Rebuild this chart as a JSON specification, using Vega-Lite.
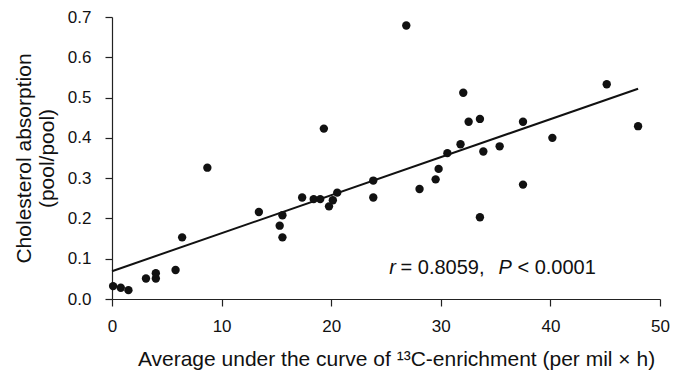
{
  "$schema": "https://vega.github.io/schema/vega-lite/v6.json",
  "autosize": "none",
  "width": 548,
  "height": 282,
  "padding": {"left": 112, "top": 17, "right": 24, "bottom": 79},
  "background": "white",
  "config": {
    "view": {"stroke": null},
    "font": "Liberation Sans",
    "axis": {"grid": false, "domainColor": "#222", "tickColor": "#222", "labelColor": "#111", "titleColor": "#111", "labelFont": "Liberation Sans", "titleFont": "Liberation Sans", "titleFontWeight": "normal", "labelFontSize": 17, "titleFontSize": 21, "tickSize": 7, "domainWidth": 1.2, "tickWidth": 1.2}
  },
  "datasets": {
    "points": [
      {"x": 0.1, "y": 0.032}, {"x": 0.8, "y": 0.028}, {"x": 1.5, "y": 0.022},
      {"x": 3.1, "y": 0.051}, {"x": 4.0, "y": 0.051}, {"x": 4.0, "y": 0.064},
      {"x": 5.8, "y": 0.072}, {"x": 6.4, "y": 0.153}, {"x": 8.7, "y": 0.326},
      {"x": 13.4, "y": 0.216}, {"x": 15.3, "y": 0.182}, {"x": 15.55, "y": 0.208},
      {"x": 15.55, "y": 0.153}, {"x": 17.35, "y": 0.252}, {"x": 18.4, "y": 0.248},
      {"x": 19.0, "y": 0.248}, {"x": 19.33, "y": 0.423}, {"x": 19.8, "y": 0.23},
      {"x": 20.15, "y": 0.245}, {"x": 20.55, "y": 0.264}, {"x": 23.84, "y": 0.294},
      {"x": 23.84, "y": 0.252}, {"x": 26.85, "y": 0.679}, {"x": 28.06, "y": 0.273},
      {"x": 29.53, "y": 0.297}, {"x": 29.8, "y": 0.323}, {"x": 30.6, "y": 0.362},
      {"x": 31.8, "y": 0.384}, {"x": 32.05, "y": 0.512}, {"x": 32.54, "y": 0.44},
      {"x": 33.57, "y": 0.447}, {"x": 33.88, "y": 0.366}, {"x": 33.57, "y": 0.203},
      {"x": 35.37, "y": 0.379}, {"x": 37.5, "y": 0.44}, {"x": 37.5, "y": 0.284},
      {"x": 40.18, "y": 0.4}, {"x": 45.14, "y": 0.533}, {"x": 48.0, "y": 0.429}
    ],
    "fit": [{"x": 0, "y": 0.069}, {"x": 48, "y": 0.522}],
    "italic": [{"x": 25.3, "y": 0.062, "label": "r"}, {"x": 35.27, "y": 0.062, "label": "P"}],
    "plain": [{"x": 26.33, "y": 0.062, "label": "= 0.8059,"}, {"x": 36.99, "y": 0.062, "label": "< 0.0001"}]
  },
  "encoding": {
    "x": {"field": "x", "type": "quantitative", "scale": {"domain": [0, 50], "nice": false, "zero": false},
      "axis": {"values": [0, 10, 20, 30, 40, 50], "title": "Average under the curve of ¹³C-enrichment (per mil × h)", "titleX": 284, "labelPadding": 12, "titlePadding": 14, "labelFlush": false}},
    "y": {"field": "y", "type": "quantitative", "scale": {"domain": [0, 0.7], "nice": false},
      "axis": {"values": [0, 0.1, 0.2, 0.3, 0.4, 0.5, 0.6, 0.7], "format": ".1f", "title": ["Cholesterol absorption", "(pool/pool)"], "titleLineHeight": 23, "labelPadding": 14, "titlePadding": 10, "labelFlush": false}}
  },
  "layer": [
    {"data": {"name": "fit"}, "mark": {"type": "line", "color": "#111", "strokeWidth": 2}},
    {"data": {"name": "points"}, "mark": {"type": "circle", "color": "#111", "opacity": 1, "size": 70}},
    {"data": {"name": "italic"}, "mark": {"type": "text", "align": "left", "baseline": "alphabetic", "fontSize": 20, "fontStyle": "italic", "color": "#111"}, "encoding": {"text": {"field": "label"}}},
    {"data": {"name": "plain"}, "mark": {"type": "text", "align": "left", "baseline": "alphabetic", "fontSize": 20, "color": "#111"}, "encoding": {"text": {"field": "label"}}}
  ]
}
